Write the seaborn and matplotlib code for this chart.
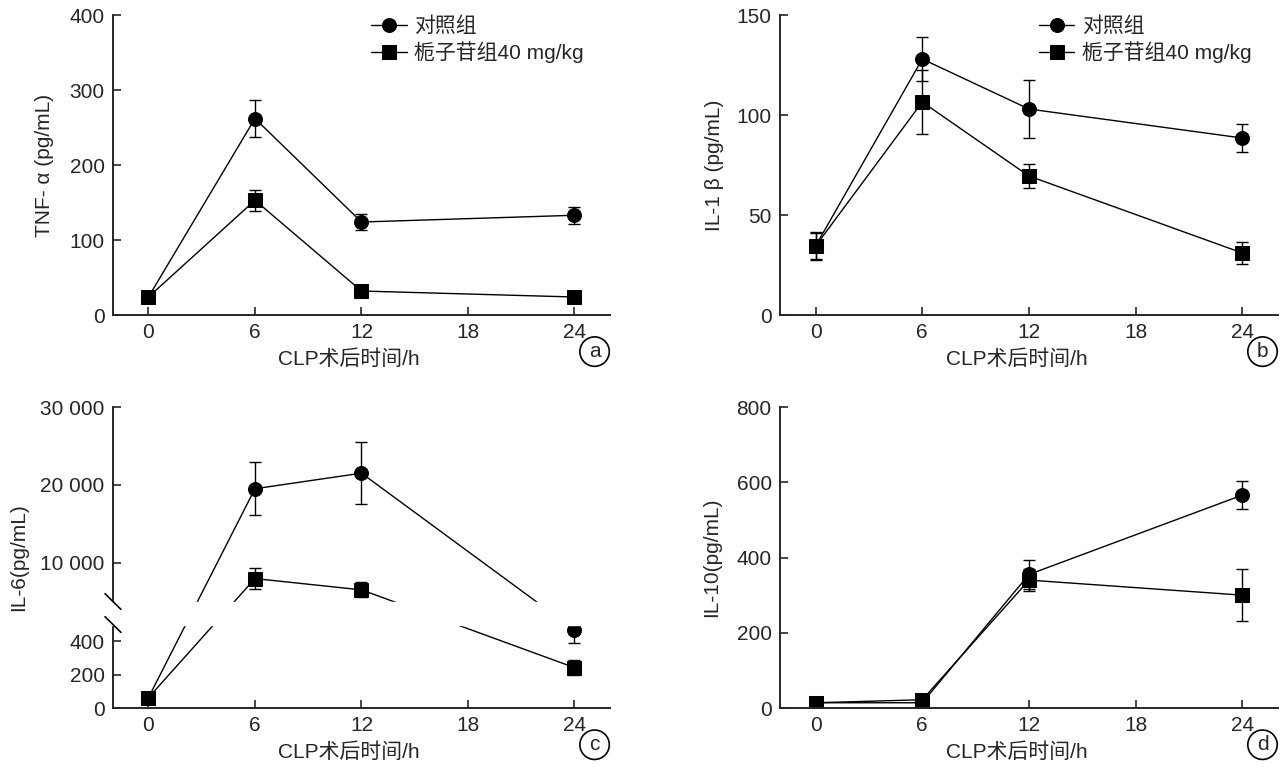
import numpy as np
import matplotlib
matplotlib.use("Agg")
import matplotlib.pyplot as plt
import seaborn as sns

hours = [0, 6, 12, 24]
group_names = ["对照组", "栀子苷组40 mg/kg"]
x_ticks = [0, 6, 12, 18, 24]
x_label = "CLP术后时间/h"

# a: TNF-alpha
tnf_ctrl = [24, 262, 124, 133]
tnf_ctrl_sd = [3, 25, 11, 11]
tnf_gen = [24, 153, 32, 24]
tnf_gen_sd = [3, 14, 3, 3]

# b: IL-1beta
il1_ctrl = [34.5, 128, 103, 88.5]
il1_ctrl_sd = [6.8, 10.8, 14.5, 7]
il1_gen = [34.5, 106.5, 69.5, 31]
il1_gen_sd = [6.5, 16, 6, 5.4]

# c: IL-6 (broken axis)
il6_ctrl = [62, 19500, 21500, 469]
il6_ctrl_sd = [8, 3400, 4000, 80]
il6_gen = [62, 7950, 6500, 242]
il6_gen_sd = [8, 1400, 950, 45]

# d: IL-10
il10_ctrl = [14, 14, 355, 566]
il10_ctrl_sd = [3, 3, 38, 38]
il10_gen = [14, 22, 340, 300]
il10_gen_sd = [3, 3, 30, 69]

FS = 15

sns.set_style("ticks")
plt.rcParams["font.family"] = ["Liberation Sans", "Noto Sans CJK SC"]
plt.rcParams["font.size"] = FS
plt.rcParams["axes.unicode_minus"] = False

fig = plt.figure(figsize=(12.88, 7.67), dpi=100)

ax_a = fig.add_axes([0.0877, 0.5893, 0.3859, 0.3911])
ax_b = fig.add_axes([0.6056, 0.5893, 0.3866, 0.3911])
ax_c = fig.add_axes([0.0877, 0.0769, 0.3859, 0.3924])
ax_d = fig.add_axes([0.6056, 0.0769, 0.3866, 0.3924])

# piecewise scale for the broken IL-6 axis
brk_in = [0, 500, 5000, 30000]
brk_out = [0, 83.5, 106.5, 301]
ax_c.set_yscale("function", functions=(lambda v: np.interp(v, brk_in, brk_out),
                                       lambda v: np.interp(v, brk_out, brk_in)))


def draw(ax, ctrl, ctrl_sd, gen, gen_sd):
    for vals, sd, mk, name in [(ctrl, ctrl_sd, "o", group_names[0]),
                               (gen, gen_sd, "s", group_names[1])]:
        sns.lineplot(x=hours, y=vals, ax=ax, color="black", marker=mk, markersize=10,
                     markeredgecolor="black", linewidth=1.0, label=name, zorder=2)
        ax.errorbar(hours, vals, yerr=sd, fmt="none", ecolor="black", elinewidth=1.0,
                    capsize=4.5, capthick=1.0, zorder=2)
    ax.set_xlim(-2, 26)
    ax.set_xticks(x_ticks)
    ax.set_xlabel(x_label)
    ax.xaxis.set_label_coords(0.475, -0.115)
    ax.tick_params(direction="in", length=6, width=1.2, pad=6, labelsize=FS)
    for s in ["left", "bottom"]:
        ax.spines[s].set_linewidth(1.4)
    sns.despine(ax=ax)


draw(ax_a, tnf_ctrl, tnf_ctrl_sd, tnf_gen, tnf_gen_sd)
draw(ax_b, il1_ctrl, il1_ctrl_sd, il1_gen, il1_gen_sd)
draw(ax_c, il6_ctrl, il6_ctrl_sd, il6_gen, il6_gen_sd)
draw(ax_d, il10_ctrl, il10_ctrl_sd, il10_gen, il10_gen_sd)

ax_a.set_ylim(0, 400)
ax_a.set_yticks([0, 100, 200, 300, 400])
ax_a.set_ylabel("TNF- α (pg/mL)", labelpad=11)

ax_b.set_ylim(0, 150)
ax_b.set_yticks([0, 50, 100, 150])
ax_b.set_ylabel("IL-1 β (pg/mL)", labelpad=9)

ax_c.set_ylim(0, 30000)
ax_c.set_yticks([0, 200, 400, 10000, 20000, 30000])
ax_c.set_yticklabels(["0", "200", "400", "10 000", "20 000", "30 000"])
ax_c.set_ylabel("IL-6(pg/mL)", labelpad=9)

ax_d.set_ylim(0, 800)
ax_d.set_yticks([0, 200, 400, 600, 800])
ax_d.set_ylabel("IL-10(pg/mL)", labelpad=11)

# legends in top panels
for ax in [ax_a, ax_b]:
    ax.legend(loc="upper left", bbox_to_anchor=(0.52, 0.995), frameon=False,
              borderpad=0, borderaxespad=0, handlelength=1.7, handletextpad=0.35,
              labelspacing=0.25, fontsize=FS)
for ax in [ax_c, ax_d]:
    ax.get_legend().remove()

# white band + break marks for the IL-6 axis gap
ax_c.axhspan(500, 5000, xmin=-0.02, xmax=1.0, color="white", zorder=2.6, clip_on=False)
for yf in [83.5 / 301, 106.5 / 301]:
    ax_c.plot([-0.016, 0.016], [yf + 0.026, yf - 0.026], transform=ax_c.transAxes,
              color="black", linewidth=1.2, clip_on=False, zorder=3)

# panel letters
for ax, letter in zip([ax_a, ax_b, ax_c, ax_d], "abcd"):
    ax.text(0.969, -0.122, letter, transform=ax.transAxes, ha="center", va="center",
            fontsize=FS, bbox=dict(boxstyle="circle,pad=0.25", fc="white", ec="black", lw=1.2))

fig.savefig("out.png", dpi=100)
